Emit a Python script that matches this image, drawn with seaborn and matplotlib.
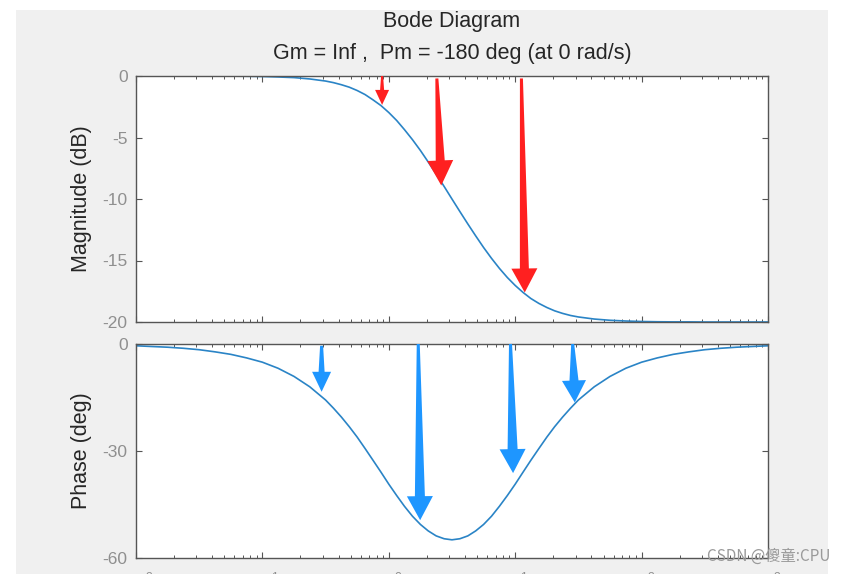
import matplotlib
matplotlib.use("Agg")
import matplotlib.pyplot as plt
import matplotlib.ticker as mticker
from matplotlib.patches import Rectangle, Polygon
from matplotlib.transforms import IdentityTransform
import numpy as np
import seaborn as sns
import pandas as pd

# frequency points (rad/s)
freq = [0.01, 0.0133, 0.0178, 0.0237, 0.0316, 0.0422, 0.0562, 0.075,
        0.1, 0.133, 0.178, 0.237, 0.316, 0.365, 0.422, 0.487,
        0.562, 0.649, 0.75, 0.866, 1.0, 1.155, 1.33, 1.54,
        1.78, 2.05, 2.37, 2.74, 3.16, 3.65, 4.22, 4.87,
        5.62, 6.49, 7.5, 8.66, 10, 11.55, 13.3, 15.4,
        17.8, 20.5, 23.7, 27.4, 31.6, 42.2, 56.2, 75,
        100, 133, 178, 237, 316, 422, 562, 750, 1000]

mag_db = [0.0, 0.0, 0.0, 0.0, 0.0, -0.01, -0.01, -0.02,
          -0.04, -0.08, -0.13, -0.24, -0.41, -0.54, -0.71, -0.91,
          -1.18, -1.51, -1.94, -2.40, -2.97, -3.62, -4.36, -5.18,
          -6.06, -6.99, -7.97, -8.98, -10.0, -11.02, -12.03, -13.0,
          -13.94, -14.82, -15.64, -16.38, -17.03, -17.6, -18.09, -18.49,
          -18.82, -19.09, -19.3, -19.47, -19.59, -19.76, -19.86, -19.92,
          -19.96, -19.98, -19.99, -19.99, -20.0, -20.0, -20.0, -20.0, -20.0]

phase_deg = [-0.5, -0.7, -0.9, -1.2, -1.6, -2.2, -2.9, -3.9,
             -5.1, -6.8, -9.1, -12.0, -15.7, -18.0, -20.5, -23.2,
             -26.1, -29.3, -32.6, -35.9, -39.3, -42.5, -45.5, -48.3,
             -50.6, -52.4, -53.8, -54.6, -54.9, -54.6, -53.8, -52.4,
             -50.6, -48.3, -45.5, -42.5, -39.3, -35.9, -32.6, -29.3,
             -26.1, -23.2, -20.5, -18.0, -15.7, -12.0, -9.1, -6.8,
             -5.1, -3.9, -2.9, -2.2, -1.6, -1.2, -0.9, -0.7, -0.5]

# red arrows on the magnitude plot
red_tail_freq = [0.885, 2.40, 11.2]
red_tip_freq = [0.885, 2.60, 11.9]
red_tail_db = [0.0, -0.2, -0.2]
red_tip_db = [-2.35, -8.9, -17.6]

# blue arrows on the phase plot
blue_tail_freq = [0.294, 1.71, 9.18, 28.5]
blue_tip_freq = [0.294, 1.77, 9.62, 29.6]
blue_tail_deg = [-0.5, 0.0, 0.0, 0.0]
blue_tip_deg = [-13.4, -49.4, -36.2, -16.4]

xtick_vals = [0.01, 0.1, 1, 10, 100, 1000]
xtick_labels = ["$10^{-2}$", "$10^{-1}$", "$10^{0}$", "$10^{1}$", "$10^{2}$", "$10^{3}$"]

# arrow sizes in pixels: head width, head length, shaft width at tail, shaft width at head
red_style = [(14, 15, 2, 4), (26, 25, 3, 9), (26, 24, 3, 9)]
blue_style = [(19, 20, 3, 6), (26, 24, 3, 10), (26, 24, 3, 10), (24, 22, 3, 9)]

sns.set_style("ticks")
plt.rcParams['font.family'] = ['Liberation Sans', 'Noto Sans CJK SC', 'DejaVu Sans']
plt.rcParams['mathtext.fontset'] = 'custom'
plt.rcParams['mathtext.rm'] = 'Liberation Sans'
plt.rcParams['mathtext.it'] = 'Liberation Sans'
plt.rcParams['axes.unicode_minus'] = False

df = pd.DataFrame({"freq": freq, "mag": mag_db, "phase": phase_deg})

line_color = '#2a84c6'
spine_color = '#555555'
tick_color = '#8f8f8f'
label_color = '#262626'

fig = plt.figure(figsize=(8.47, 5.74), dpi=100, facecolor='white')
fig.patches.append(Rectangle((16 / 847, 0), (828 - 16) / 847, (574 - 10) / 574,
                             transform=fig.transFigure, facecolor='#f0f0f0',
                             edgecolor='none', zorder=-10))

ax1 = fig.add_axes([136 / 847, 1 - 322 / 574, 632 / 847, 246 / 574])
ax2 = fig.add_axes([136 / 847, 1 - 558 / 574, 632 / 847, 214 / 574])

sns.lineplot(data=df, x="freq", y="mag", ax=ax1, color=line_color, linewidth=1.2)
sns.lineplot(data=df, x="freq", y="phase", ax=ax2, color=line_color, linewidth=1.2)

for ax in (ax1, ax2):
    ax.set_facecolor('white')
    ax.set_xscale('log')
    ax.set_xlim(0.01, 1000)
    ax.xaxis.set_major_locator(mticker.FixedLocator(xtick_vals))
    ax.xaxis.set_minor_locator(mticker.LogLocator(base=10, subs=range(2, 10), numticks=20))
    ax.xaxis.set_minor_formatter(mticker.NullFormatter())
    for s in ax.spines.values():
        s.set_visible(True)
        s.set_color(spine_color)
        s.set_linewidth(1.0)
    ax.tick_params(which='both', direction='in', top=True, right=True,
                   color=spine_color, labelcolor=tick_color, labelsize=12.5)
    ax.tick_params(which='major', length=4, width=0.8, pad=6)
    ax.tick_params(which='minor', length=2.5, width=0.7)
    ax.set_xlabel('')

ax1.set_ylim(-20, 0)
ax1.set_yticks([-20, -15, -10, -5, 0])
ax1.set_xticklabels([])
ax1.set_ylabel('Magnitude (dB)', fontsize=15.5, color=label_color)

ax2.set_ylim(-60, 0)
ax2.set_yticks([-60, -30, 0])
ax2.set_xticklabels(xtick_labels)
ax2.tick_params(axis='x', which='major', pad=9)
ax2.set_ylabel('Phase (deg)', fontsize=15.5, color=label_color)

for ax in (ax1, ax2):
    ax.yaxis.set_label_coords(-0.07, 0.5)


def draw_arrow(ax, tail, tip, style, color):
    hw, hl, w0, w1 = style
    p0 = ax.transData.transform(tail)
    p1 = ax.transData.transform(tip)
    d = (p1 - p0) / np.hypot(*(p1 - p0))
    n = np.array([-d[1], d[0]])
    b = p1 - d * hl
    pts = [p0 + n * w0 / 2, b + n * w1 / 2, b + n * hw / 2, p1,
           b - n * hw / 2, b - n * w1 / 2, p0 - n * w0 / 2]
    ax.add_artist(Polygon(pts, closed=True, transform=IdentityTransform(),
                          facecolor=color, edgecolor='none', zorder=5, clip_on=False))


for ft, fh, yt, yh, st in zip(red_tail_freq, red_tip_freq, red_tail_db, red_tip_db, red_style):
    draw_arrow(ax1, (ft, yt), (fh, yh), st, '#ff2020')

for ft, fh, yt, yh, st in zip(blue_tail_freq, blue_tip_freq, blue_tail_deg, blue_tip_deg, blue_style):
    draw_arrow(ax2, (ft, yt), (fh, yh), st, '#1e96ff')

fig.text(452 / 847, 1 - 21 / 574, 'Bode Diagram', ha='center', va='center',
         fontsize=15.5, color=label_color)
fig.text(452 / 847, 1 - 53 / 574, 'Gm = Inf ,  Pm = -180 deg (at 0 rad/s)',
         ha='center', va='center', fontsize=15.5, color=label_color)

fig.text(707 / 847, 1 - 556 / 574, 'CSDN @傻童:CPU', ha='left', va='center',
         fontsize=11, color='#9a9a9a',
         family=['Noto Sans CJK SC', 'DejaVu Sans'])

fig.savefig('out.png', dpi=100, facecolor=fig.get_facecolor())
